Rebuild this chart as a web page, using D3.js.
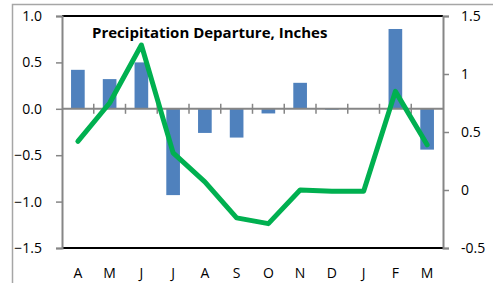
<!DOCTYPE html>
<html lang="en">
<head>
    <meta charset="UTF-8">
    <title>Precipitation Departure</title>
    <style>
        body { margin: 0; background: #fff; }
        text { font-family: "Open Sans", "Liberation Sans", sans-serif; fill: #000; }
    </style>
    <script src="https://cdn.jsdelivr.net/npm/d3@7/dist/d3.min.js"></script>
</head>
<body>
<svg class="chart" width="493" height="283"></svg>
<script>
    const
        months = ['A', 'M', 'J', 'J', 'A', 'S', 'O', 'N', 'D', 'J', 'F', 'M'],
        departure = [0.42, 0.32, 0.50, -0.93, -0.26, -0.31, -0.05, 0.28, -0.01, 0, 0.86, -0.44], // bars, left axis
        lineValues = [0.42, 0.75, 1.25, 0.32, 0.07, -0.24, -0.29, 0.0, -0.01, -0.01, 0.85, 0.39], // line, right axis
        leftTicks = [1.0, 0.5, 0.0, -0.5, -1.0, -1.5],
        rightTicks = [1.5, 1, 0.5, 0, -0.5],
        plot = {left: 62, right: 443, top: 16, bottom: 248};

    const svg = d3.select('.chart');

    // outer frame (cropped on right/bottom)
    svg.append('rect')
        .attr('x', 12.5).attr('y', 4.5)
        .attr('width', 500).attr('height', 300)
        .attr('fill', 'none').attr('stroke', '#a6a6a6').attr('stroke-width', 1.5);

    // scales
    let x = d3.scaleBand().domain(d3.range(months.length)).range([plot.left, plot.right]).paddingInner(0.57).paddingOuter(0.285),
        xLine = d3.scaleBand().domain(d3.range(months.length)).range([plot.left, plot.right]),
        yLeft = d3.scaleLinear().domain([-1.5, 1.0]).range([plot.bottom, plot.top]),
        yRight = d3.scaleLinear().domain([-0.5, 1.5]).range([plot.bottom, plot.top]);

    // plot area top/bottom border
    svg.append('line')
        .attr('x1', plot.left).attr('x2', plot.right)
        .attr('y1', plot.top).attr('y2', plot.top)
        .attr('stroke', '#000').attr('stroke-width', 2);
    svg.append('line')
        .attr('x1', plot.left).attr('x2', plot.right)
        .attr('y1', plot.bottom).attr('y2', plot.bottom)
        .attr('stroke', '#000').attr('stroke-width', 2);

    // bars
    svg.append('g').selectAll('rect')
        .data(departure).enter().append('rect')
        .attr('x', (d, i) => x(i))
        .attr('width', x.bandwidth())
        .attr('y', d => yLeft(Math.max(0, d)))
        .attr('height', d => Math.abs(yLeft(d) - yLeft(0)))
        .attr('fill', '#4f81bd');

    // left axis
    let leftAxis = d3.axisLeft(yLeft).tickValues(leftTicks).tickFormat(d3.format('.1f')).tickSize(6).tickPadding(14);
    let gl = svg.append('g')
        .attr('transform', 'translate(' + plot.left + ',0)')
        .call(leftAxis);

    // right axis
    let rightAxis = d3.axisRight(yRight).tickValues(rightTicks).tickFormat(d => d === 0 ? '0' : (Number.isInteger(d) ? d : d.toFixed(1))).tickSize(6).tickPadding(12);
    let gr = svg.append('g')
        .attr('transform', 'translate(' + plot.right + ',0)')
        .call(rightAxis);

    [gl, gr].forEach(g => {
        g.select('.domain').attr('stroke', '#868686').attr('stroke-width', 2);
        g.selectAll('.tick line').attr('stroke', '#868686').attr('stroke-width', 1.5);
        g.selectAll('.tick text').attr('font-size', 14).attr('fill', '#000');
        g.attr('font-family', null);
    });

    // category axis at zero, ticks crossing
    let xAxisG = svg.append('g');
    xAxisG.append('line')
        .attr('x1', plot.left).attr('x2', plot.right)
        .attr('y1', yLeft(0)).attr('y2', yLeft(0))
        .attr('stroke', '#868686').attr('stroke-width', 2);
    xAxisG.selectAll('.xtick')
        .data(d3.range(1, months.length)).enter().append('line')
        .attr('x1', i => xLine(i)).attr('x2', i => xLine(i))
        .attr('y1', yLeft(0) - 5).attr('y2', yLeft(0) + 5)
        .attr('stroke', '#868686').attr('stroke-width', 1.5);

    // month labels at bottom
    svg.append('g').selectAll('text')
        .data(months).enter().append('text')
        .attr('x', (d, i) => xLine(i) + xLine.bandwidth() / 2)
        .attr('y', 278)
        .attr('text-anchor', 'middle')
        .attr('font-size', 14)
        .text(d => d);

    // line
    let line = d3.line()
        .x((d, i) => xLine(i) + xLine.bandwidth() / 2)
        .y(d => yRight(d));
    svg.append('path')
        .datum(lineValues)
        .attr('d', line)
        .attr('fill', 'none')
        .attr('stroke', '#00b050')
        .attr('stroke-width', 5)
        .attr('stroke-linejoin', 'round')
        .attr('stroke-linecap', 'round');

    // title
    svg.append('text')
        .attr('x', 92).attr('y', 38)
        .attr('font-size', 15).attr('font-weight', 'bold')
        .text('Precipitation Departure, Inches');
</script>
</body>
</html>
